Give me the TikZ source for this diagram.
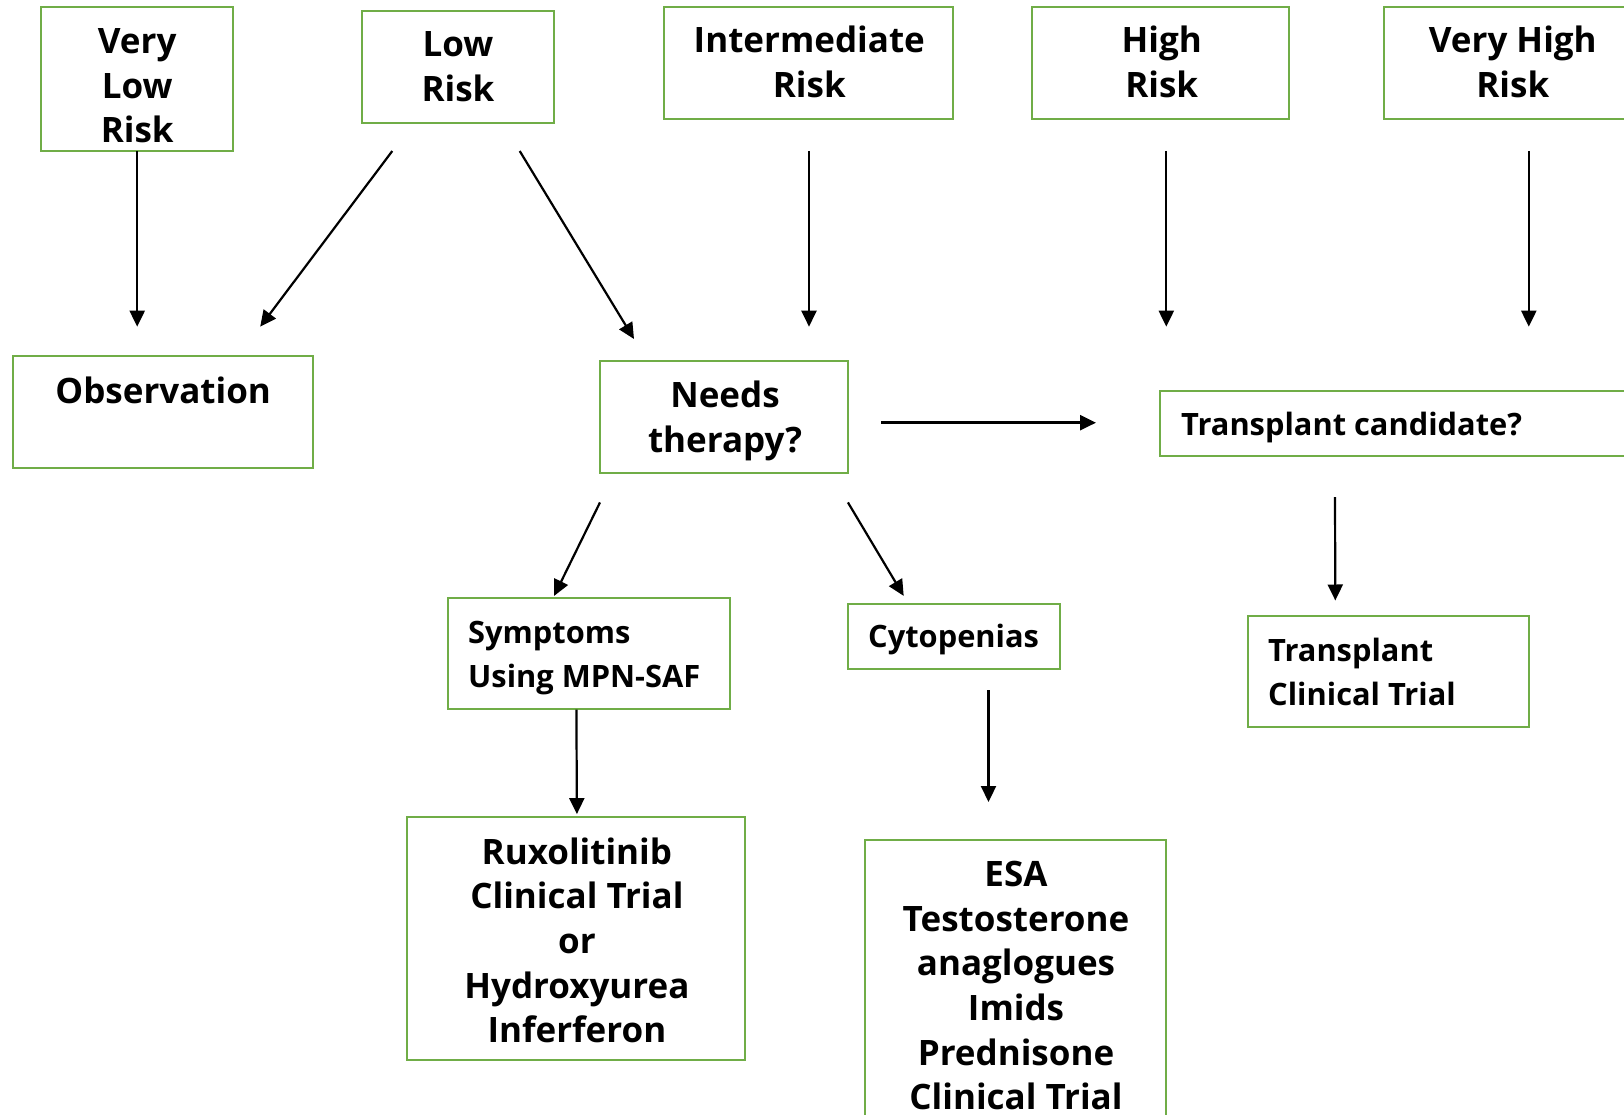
\documentclass[tikz,border=0pt]{standalone}
\usepackage{fontspec}
\setmainfont{Open Sans}
\usetikzlibrary{arrows.meta}
\definecolor{boxgreen}{RGB}{112,173,71}
\tikzset{
 box/.style={draw=boxgreen, line width=2pt, inner sep=0pt, outer sep=0pt, rectangle},
 bigtxt/.style={font=\bfseries\fontsize{35}{44.6}\selectfont, inner sep=0pt, anchor=north, align=center},
 smalltxt/.style={font=\bfseries\fontsize{30.8}{43.6}\selectfont, inner sep=0pt, anchor=north west, align=left},
 arr/.style={-{Triangle[length=16pt,width=15pt]}, line width=2.2pt, black},
}
\begin{document}
\begin{tikzpicture}[x=1pt,y=-1pt]
\useasboundingbox (0,0) rectangle (1624,1115);
\fill[white] (0,0) rectangle (1624,1115);
\clip (0,0) rectangle (1624,1115);
% boxes
\node[box, minimum width=192.4pt, minimum height=144.3pt] (vlow) at (137.2,78.85) {};
\node[box, minimum width=192.5pt, minimum height=112.3pt] (low) at (457.95,66.85) {};
\node[box, minimum width=289.4pt, minimum height=112.3pt] (inter) at (808.7,62.85) {};
\node[box, minimum width=256.6pt, minimum height=112.3pt] (high) at (1160.7,62.85) {};
\node[box, minimum width=258pt, minimum height=112.3pt] (vhigh) at (1512.8,62.85) {};
\node[box, minimum width=299.6pt, minimum height=112.3pt] (obs) at (163.2,412.15) {};
\node[box, minimum width=248.2pt, minimum height=112.3pt] (needs) at (724.1,417.15) {};
\node[box, minimum width=539.6pt, minimum height=65pt] (tcand) at (1430.2,423.2) {};
\node[box, minimum width=281.7pt, minimum height=110.6pt] (symp) at (588.75,653.2) {};
\node[box, minimum width=212.5pt, minimum height=65.4pt] (cyto) at (954.15,636.3) {};
\node[box, minimum width=281.4pt, minimum height=110.7pt] (ttrial) at (1388.3,671.35) {};
\node[box, minimum width=338.2pt, minimum height=243.4pt] (rux) at (575.9,938.3) {};
\node[box, minimum width=301.4pt, minimum height=360.2pt] (esa) at (1015.5,1019.9) {};
% texts
\node[bigtxt] (vlowT) at (137.2,22.1) {\strut Very\\\strut Low\\\strut Risk};
\node[bigtxt] (lowT) at (458,25.5) {\strut Low\\\strut Risk};
\node[bigtxt] (interT) at (809.3,21.5) {\strut Intermediate\\\strut Risk};
\node[bigtxt] (highT) at (1161.7,21.5) {\strut High\\\strut Risk};
\node[bigtxt] (vhighT) at (1512.8,21.5) {\strut Very High\\\strut Risk};
\node[bigtxt] (obsT) at (163.2,372.1) {\strut Observation};
\node[bigtxt] (needsT) at (725,376.1) {\strut Needs\\\strut therapy?};
\node[bigtxt] (ruxT) at (576.9,832.8) {\strut Ruxolitinib\\\strut Clinical Trial\\\strut or\\\strut Hydroxyurea\\\strut Inferferon};
\node[bigtxt] (esaT) at (1016,855.3) {\strut ESA\\\strut Testosterone\\\strut anaglogues\\\strut Imids\\\strut Prednisone\\\strut Clinical Trial};
\node[smalltxt] (tcandT) at (1181,404.5) {\strut Transplant candidate?};
\node[smalltxt] (sympT) at (468,612.9) {\strut Symptoms\\\strut Using MPN-SAF};
\node[smalltxt] (cytoT) at (868,617) {\strut Cytopenias};
\node[smalltxt] (ttrialT) at (1268,631.2) {\strut Transplant\\\strut Clinical Trial};
% arrow endpoints
\coordinate (e1) at (137.2,326.7);
\coordinate (s2) at (392.3,151); \coordinate (e2) at (260.2,326.7);
\coordinate (s3) at (519.7,151); \coordinate (e3) at (634,339);
\coordinate (s4) at (809,151); \coordinate (e4) at (809,326.7);
\coordinate (s5) at (1166.3,151); \coordinate (e5) at (1166.3,326.7);
\coordinate (s6) at (1528.8,151); \coordinate (e6) at (1528.8,326.7);
\coordinate (s7) at (881,422.7); \coordinate (e7) at (1096,422.7);
\coordinate (s8) at (1335,497); \coordinate (e8) at (1335.3,600.5);
\coordinate (s9) at (600,502.4); \coordinate (e9) at (554.1,595.9);
\coordinate (s10) at (847.9,502.4); \coordinate (e10) at (903.7,595.9);
\coordinate (s11) at (576.4,709.5); \coordinate (e11) at (576.9,814.1);
\coordinate (s12) at (988.5,690.2); \coordinate (e12) at (988.5,802);
% arrows
\draw[arr] (vlow.south) -- (e1);
\draw[arr] (s2) -- (e2);
\draw[arr] (s3) -- (e3);
\draw[arr] (s4) -- (e4);
\draw[arr] (s5) -- (e5);
\draw[arr] (s6) -- (e6);
\draw[arr, line width=2.8pt] (s7) -- (e7);
\draw[arr] (s8) -- (e8);
\draw[arr] (s9) -- (e9);
\draw[arr] (s10) -- (e10);
\draw[arr] (s11) -- (e11);
\draw[arr] (s12) -- (e12);
\end{tikzpicture}
\end{document}
